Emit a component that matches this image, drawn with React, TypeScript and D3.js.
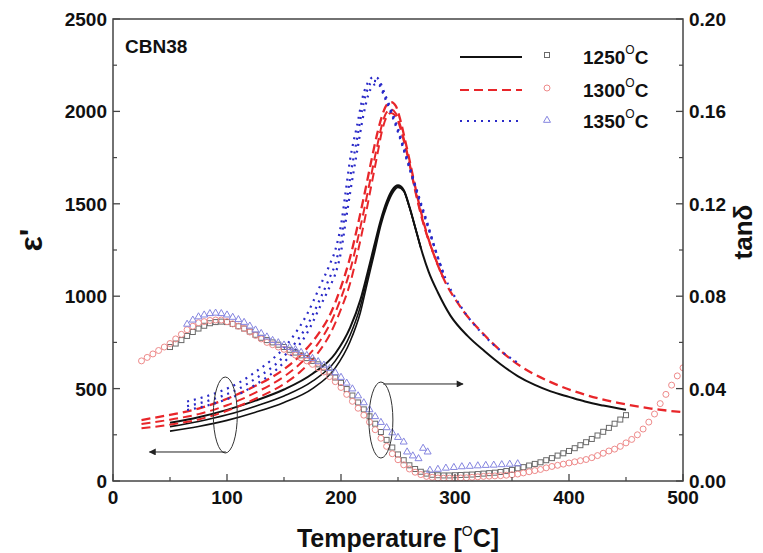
import React from 'react';
import * as d3 from 'd3';

const W = 763, H = 553;
const X0 = 113, X1 = 683, Y0 = 19, Y1 = 481;

const xTicks = [0, 100, 200, 300, 400, 500];
const xMinor = [50, 150, 250, 350, 450];
const yLTicks = [0, 500, 1000, 1500, 2000, 2500];
const yLMinor = [250, 750, 1250, 1750, 2250];
const yRTicks = [0, 0.04, 0.08, 0.12, 0.16, 0.2];
const yRMinor = [0.02, 0.06, 0.1, 0.14, 0.18];

const seriesNames = ['1250', '1300', '1350'];

// ---- permittivity curves (left axis); shorter arrays stop where curves merge ----
const T_eps1250 = [50, 75, 100, 125, 150, 175, 195, 208, 217, 223, 229, 235, 240, 245, 250, 255, 260, 265, 270, 277, 285, 296, 311, 326, 340, 355, 370, 384, 400, 414, 430, 450];
const eps1250_a = [315, 345, 385, 435, 495, 580, 690, 830, 980, 1120, 1270, 1415, 1510, 1575, 1600, 1575, 1485, 1375, 1262, 1130, 1020, 895, 785, 702, 632, 568, 520, 485, 455, 430, 408, 385];
const eps1250_b = [294, 322, 358, 405, 460, 540, 650, 790, 945, 1095, 1245, 1400, 1495, 1565, 1594, 1572, 1483, 1374, 1262];
const eps1250_c = [270, 295, 328, 372, 425, 500, 612, 755, 912, 1070, 1225, 1385, 1484, 1555, 1588, 1568, 1481, 1373, 1262];

const T_eps1300 = [25, 50, 75, 100, 125, 150, 165, 180, 190, 200, 208, 214, 220, 226, 232, 236, 240, 244, 248, 252, 256, 260, 265, 270, 275, 280, 290, 305, 325, 352, 384, 414, 443, 472, 500];
const eps1300_a = [330, 358, 392, 445, 515, 605, 685, 795, 895, 1050, 1210, 1365, 1535, 1715, 1885, 1975, 2035, 2050, 2030, 1955, 1850, 1740, 1595, 1460, 1345, 1250, 1095, 940, 795, 645, 535, 467, 423, 392, 372];
const eps1300_b = [308, 332, 362, 410, 478, 565, 640, 745, 845, 990, 1140, 1290, 1460, 1640, 1820, 1930, 1995, 2010, 1990, 1925, 1830, 1725, 1580, 1450, 1340, 1250, 1095];
const eps1300_c = [285, 305, 333, 380, 445, 525, 595, 695, 790, 930, 1070, 1220, 1390, 1580, 1770, 1895, 1970, 1992, 1975, 1910, 1818, 1715, 1570, 1442, 1336, 1250, 1095];

const T_eps1350 = [65, 80, 95, 110, 126, 138, 150, 160, 170, 182, 190, 195, 200, 204, 208, 214, 220, 224, 228, 232, 239, 249, 258, 267, 276, 282, 290, 305, 326, 340, 355];
const eps1350_a = [430, 455, 487, 530, 595, 650, 720, 800, 900, 1060, 1170, 1250, 1385, 1560, 1740, 1920, 2100, 2160, 2185, 2180, 2085, 1925, 1745, 1565, 1390, 1265, 1120, 945, 785, 705, 640];
const eps1350_b = [405, 428, 458, 498, 558, 608, 675, 748, 838, 990, 1100, 1175, 1305, 1470, 1640, 1850, 2050, 2130, 2165, 2162, 2075, 1915, 1738, 1558, 1385, 1265, 1120];
const eps1350_c = [384, 404, 432, 468, 525, 575, 642, 710, 797, 948, 1050, 1120, 1240, 1400, 1560, 1780, 1990, 2090, 2140, 2150, 2065, 1905, 1732, 1552, 1380, 1265, 1120];

// ---- tan delta (right axis) ----
const T_tan1250 = d3.range(50, 451, 5);
const tan1250 = [0.058, 0.0595, 0.061, 0.0628, 0.0645, 0.066, 0.0672, 0.0683, 0.0688, 0.069, 0.0688, 0.068, 0.067, 0.066, 0.0647, 0.0633, 0.062, 0.061, 0.06, 0.059, 0.058, 0.0568, 0.0556, 0.0544, 0.0532, 0.052, 0.0505, 0.049, 0.047, 0.0448, 0.0425, 0.0398, 0.037, 0.034, 0.031, 0.028, 0.0248, 0.0212, 0.0178, 0.0145, 0.0115, 0.009, 0.0068, 0.0052, 0.004, 0.0032, 0.0027, 0.0025, 0.0024, 0.0024, 0.0025, 0.0026, 0.0027, 0.0028, 0.003, 0.0032, 0.0034, 0.0036, 0.0039, 0.0043, 0.0048, 0.0055, 0.006, 0.0067, 0.0074, 0.0081, 0.009, 0.0099, 0.011, 0.012, 0.013, 0.0142, 0.0155, 0.0168, 0.0182, 0.0197, 0.0213, 0.023, 0.0248, 0.0266, 0.0285];

const T_tan1300 = d3.range(25, 501, 5);
const tan1300 = [0.052, 0.0535, 0.055, 0.0565, 0.058, 0.0595, 0.0615, 0.0635, 0.0655, 0.067, 0.0685, 0.069, 0.0695, 0.0697, 0.0697, 0.069, 0.068, 0.067, 0.066, 0.0645, 0.063, 0.0615, 0.06, 0.059, 0.058, 0.057, 0.0558, 0.0545, 0.0533, 0.052, 0.0505, 0.049, 0.0472, 0.0452, 0.043, 0.0405, 0.0375, 0.0345, 0.0315, 0.0285, 0.0255, 0.0222, 0.0185, 0.015, 0.0118, 0.0092, 0.007, 0.0052, 0.0038, 0.0028, 0.002, 0.0016, 0.0013, 0.0012, 0.0012, 0.0012, 0.0013, 0.0014, 0.0016, 0.0018, 0.002, 0.0021, 0.0022, 0.0023, 0.0025, 0.0027, 0.003, 0.0035, 0.004, 0.0045, 0.005, 0.0057, 0.0063, 0.0068, 0.0073, 0.0078, 0.0083, 0.0088, 0.0093, 0.0101, 0.011, 0.012, 0.013, 0.0138, 0.015, 0.0165, 0.018, 0.02, 0.0225, 0.0255, 0.029, 0.0335, 0.0375, 0.0415, 0.0455, 0.049];

const T_tan1350 = [65, 70, 75, 80, 85, 90, 95, 100, 105, 110, 115, 120, 125, 130, 135, 140, 145, 150, 155, 160, 165, 170, 175, 180, 185, 190, 195, 200, 205, 210, 215, 220, 225, 230, 235, 240, 245, 250, 255, 258, 263, 268, 272, 276, 278, 285, 292, 299, 306, 313, 320, 327, 334, 341, 348, 355];
const tan1350 = [0.068, 0.0698, 0.0712, 0.072, 0.0726, 0.0728, 0.0726, 0.072, 0.071, 0.07, 0.0688, 0.0672, 0.0655, 0.064, 0.0625, 0.061, 0.06, 0.059, 0.058, 0.057, 0.0558, 0.0545, 0.0532, 0.0518, 0.0503, 0.0488, 0.047, 0.045, 0.0425, 0.04, 0.037, 0.034, 0.031, 0.028, 0.0255, 0.0232, 0.021, 0.019, 0.017, 0.0127, 0.011, 0.0098, 0.0143, 0.0127, 0.0048, 0.0052, 0.0057, 0.006, 0.0063, 0.0065, 0.0067, 0.0069, 0.007, 0.0072, 0.0074, 0.0076];

// annotation anchors in data units: [temperature, permittivity]
const ellipseLeft = [98.5, 357];
const ellipseRight = [235, 330];
const arrowLeft = [[99, 157], [32, 157]];
const arrowRight = [[237, 525], [307, 525]];

const x = d3.scaleLinear().domain([0, 500]).range([X0, X1]);
const yL = d3.scaleLinear().domain([0, 2500]).range([Y1, Y0]);
const yR = d3.scaleLinear().domain([0, 0.2]).range([Y1, Y0]);

const lineGen = d3.line<[number, number]>()
  .x(d => x(d[0]))
  .y(d => yL(d[1]))
  .curve(d3.curveMonotoneX);

const zip = (ts: number[], vs: number[]) => vs.map((v, i) => [ts[i], v] as [number, number]);

const COL_BLACK = '#111';
const COL_RED = '#e8262a';
const COL_BLUE = '#2a2ac8';
const MK_BLACK = '#6a6a6a';
const MK_RED = '#ee8a8a';
const MK_BLUE = '#8585e0';

const FONT = 'Arial, "Liberation Sans", Helvetica, sans-serif';

function Square({ cx, cy, s = 5, color }: any) {
  return <rect x={cx - s / 2} y={cy - s / 2} width={s} height={s} fill="none" stroke={color} strokeWidth={1} />;
}
function Circle({ cx, cy, r = 3, color }: any) {
  return <circle cx={cx} cy={cy} r={r} fill="none" stroke={color} strokeWidth={1} />;
}
function Tri({ cx, cy, s = 7, color }: any) {
  const h = s * 0.87;
  const p = `${cx},${cy - h * 0.62} ${cx - s / 2},${cy + h * 0.38} ${cx + s / 2},${cy + h * 0.38}`;
  return <polygon points={p} fill="none" stroke={color} strokeWidth={1} />;
}

export default function App() {
  const blackCurves = [eps1250_a, eps1250_b, eps1250_c].map(v => zip(T_eps1250, v));
  const redCurves = [eps1300_a, eps1300_b, eps1300_c].map(v => zip(T_eps1300, v));
  const blueCurves = [eps1350_a, eps1350_b, eps1350_c].map(v => zip(T_eps1350, v));

  const legendRows = [
    { name: seriesNames[0], y: 57, line: COL_BLACK, dash: undefined, mk: 'sq' },
    { name: seriesNames[1], y: 90, line: COL_RED, dash: '9,5', mk: 'ci' },
    { name: seriesNames[2], y: 121, line: COL_BLUE, dash: '2,5', mk: 'tr' },
  ];

  return (
    <svg width={W} height={H} style={{ position: 'absolute', left: 0, top: 0, background: '#fff' }} fontFamily={FONT}>
      <rect x={0} y={0} width={W} height={H} fill="#fff" />
      <defs>
        <marker id="ah" viewBox="0 0 10 10" refX="9" refY="5" markerWidth="9" markerHeight="7" orient="auto-start-reverse" markerUnits="userSpaceOnUse">
          <path d="M0,0 L10,5 L0,10 z" fill="#222" />
        </marker>
        <clipPath id="plot"><rect x={X0} y={Y0} width={X1 - X0} height={Y1 - Y0} /></clipPath>
      </defs>

      <g clipPath="url(#plot)">
        {blackCurves.map((c, i) => (
          <path key={'b' + i} d={lineGen(c) || ''} fill="none" stroke={COL_BLACK} strokeWidth={i === 0 ? 2 : 1.6} />
        ))}
        {redCurves.map((c, i) => (
          <path key={'r' + i} d={lineGen(c) || ''} fill="none" stroke={COL_RED} strokeWidth={i === 0 ? 2.3 : 2} strokeDasharray="9,5" />
        ))}
        {blueCurves.map((c, i) => (
          <path key={'u' + i} d={lineGen(c) || ''} fill="none" stroke={COL_BLUE} strokeWidth={2.2} strokeDasharray="2,5" />
        ))}

        {T_tan1250.map((t, i) => <Square key={'sq' + i} cx={x(t)} cy={yR(tan1250[i])} color={MK_BLACK} />)}
        {T_tan1300.map((t, i) => <Circle key={'ci' + i} cx={x(t)} cy={yR(tan1300[i])} color={MK_RED} />)}
        {T_tan1350.map((t, i) => <Tri key={'tr' + i} cx={x(t)} cy={yR(tan1350[i])} color={MK_BLUE} />)}
      </g>

      {/* annotations */}
      <ellipse cx={x(ellipseLeft[0])} cy={yL(ellipseLeft[1])} rx={12} ry={38} fill="none" stroke="#333" strokeWidth={1} />
      <ellipse cx={x(ellipseRight[0])} cy={yL(ellipseRight[1])} rx={12} ry={38} fill="none" stroke="#333" strokeWidth={1} />
      <line x1={x(arrowLeft[0][0])} y1={yL(arrowLeft[0][1])} x2={x(arrowLeft[1][0])} y2={yL(arrowLeft[1][1])} stroke="#222" strokeWidth={1} markerEnd="url(#ah)" />
      <line x1={x(arrowRight[0][0])} y1={yL(arrowRight[0][1])} x2={x(arrowRight[1][0])} y2={yL(arrowRight[1][1])} stroke="#222" strokeWidth={1} markerEnd="url(#ah)" />

      {/* frame */}
      <rect x={X0} y={Y0} width={X1 - X0} height={Y1 - Y0} fill="none" stroke="#444" strokeWidth={1.5} />

      {/* x ticks */}
      {xTicks.map(t => (
        <g key={'xt' + t}>
          <line x1={x(t)} x2={x(t)} y1={Y1} y2={Y1 - 7} stroke="#444" strokeWidth={1.3} />
          <text x={x(t)} y={Y1 + 23} textAnchor="middle" fontSize={19} fontWeight="bold" fill="#111">{t}</text>
        </g>
      ))}
      {xMinor.map(t => <line key={'xm' + t} x1={x(t)} x2={x(t)} y1={Y1} y2={Y1 - 4} stroke="#444" strokeWidth={1.2} />)}

      {/* left ticks */}
      {yLTicks.map(t => (
        <g key={'yl' + t}>
          <line x1={X0} x2={X0 + 7} y1={yL(t)} y2={yL(t)} stroke="#444" strokeWidth={1.3} />
          <text x={X0 - 6} y={yL(t) + 7} textAnchor="end" fontSize={19} fontWeight="bold" fill="#111">{t}</text>
        </g>
      ))}
      {yLMinor.map(t => <line key={'ylm' + t} x1={X0} x2={X0 + 4} y1={yL(t)} y2={yL(t)} stroke="#444" strokeWidth={1.2} />)}

      {/* right ticks */}
      {yRTicks.map(t => (
        <g key={'yr' + t}>
          <line x1={X1} x2={X1 - 7} y1={yR(t)} y2={yR(t)} stroke="#444" strokeWidth={1.3} />
          <text x={X1 + 6} y={yR(t) + 7} textAnchor="start" fontSize={19} fontWeight="bold" fill="#111">{t.toFixed(2)}</text>
        </g>
      ))}
      {yRMinor.map(t => <line key={'yrm' + t} x1={X1} x2={X1 - 4} y1={yR(t)} y2={yR(t)} stroke="#444" strokeWidth={1.2} />)}

      {/* axis titles */}
      <text x={398} y={547} textAnchor="middle" fontSize={25} fontWeight="bold" fill="#111">
        Temperature [<tspan fontSize={14} fontWeight="normal" dy={-11}>O</tspan><tspan dy={11}>C]</tspan>
      </text>
      <text transform="translate(42,240) rotate(-90)" textAnchor="middle" fontSize={32} fontWeight="bold" fill="#111">ε'</text>
      <text transform="translate(752,232) rotate(-90)" textAnchor="middle" fontSize={26} fontWeight="bold" fill="#111">tanδ</text>

      {/* sample label */}
      <text x={125} y={53} fontSize={19} fontWeight="bold" fill="#111">CBN38</text>

      {/* legend */}
      {legendRows.map(r => (
        <g key={'lg' + r.name}>
          <line x1={460} x2={522} y1={r.y} y2={r.y} stroke={r.line} strokeWidth={r.mk === 'sq' ? 1.8 : 2} strokeDasharray={r.dash} />
          {r.mk === 'sq' && <Square cx={547} cy={r.y - 2} s={5} color={MK_BLACK} />}
          {r.mk === 'ci' && <Circle cx={547} cy={r.y - 2} r={3} color={MK_RED} />}
          {r.mk === 'tr' && <Tri cx={547} cy={r.y - 1} s={7} color={MK_BLUE} />}
          <text x={583} y={r.y + 7} fontSize={19} fontWeight="bold" fill="#111">
            {r.name}<tspan fontSize={12} fontWeight="normal" dy={-10}>O</tspan><tspan dy={10}>C</tspan>
          </text>
        </g>
      ))}
    </svg>
  );
}
